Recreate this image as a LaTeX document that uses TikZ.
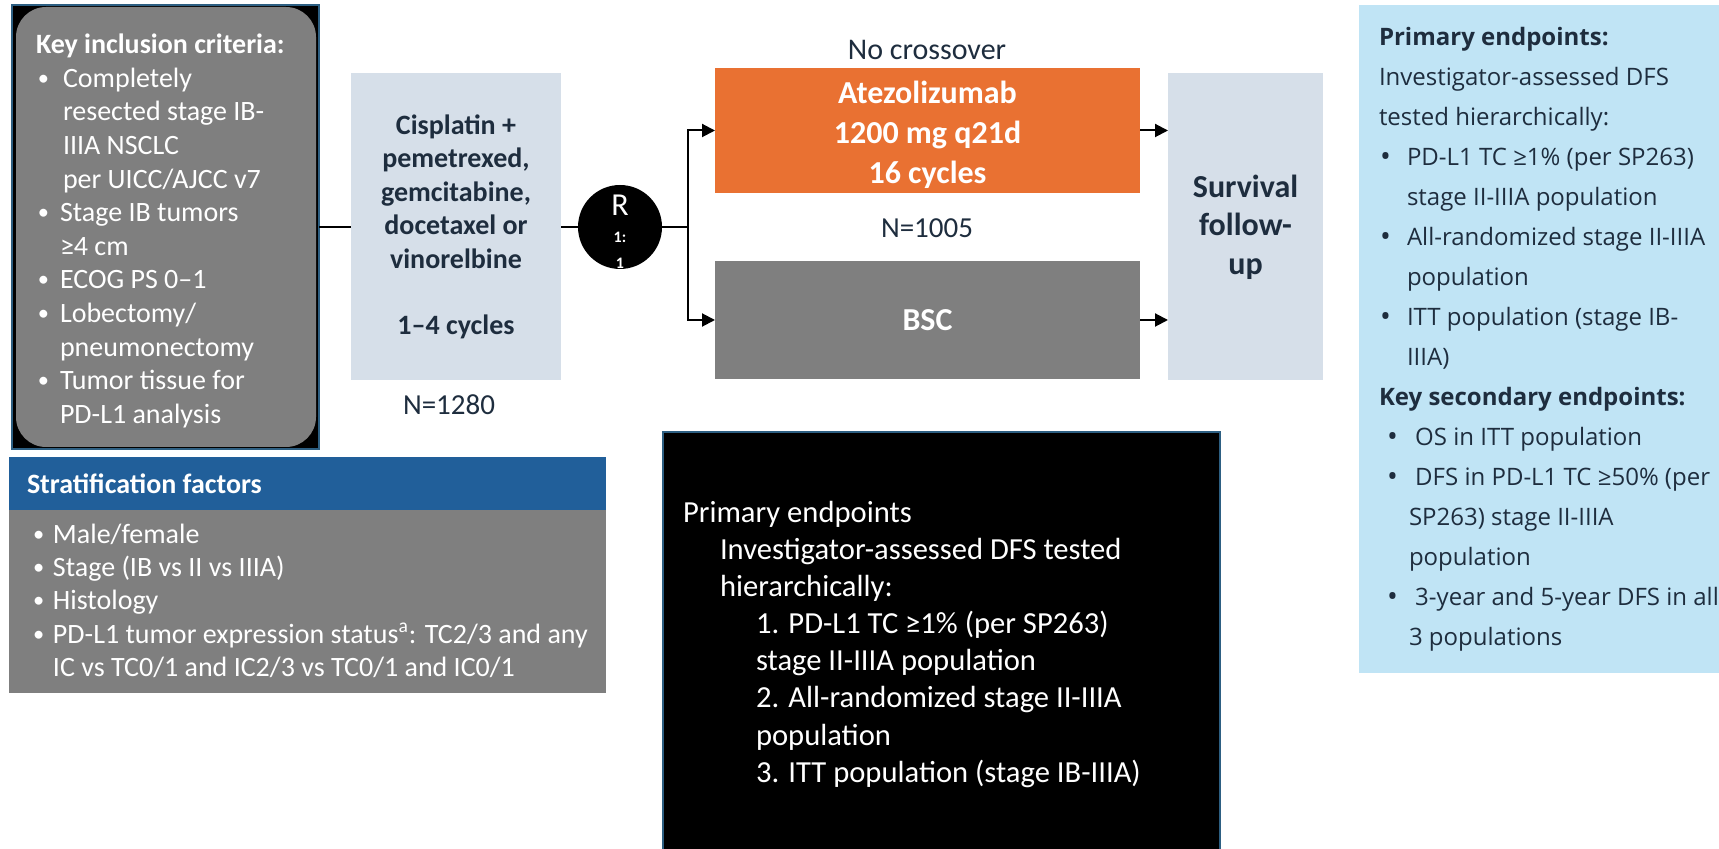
\documentclass[tikz,border=0pt]{standalone}
\usepackage{fontspec}
\setmainfont{Carlito}
\newfontfamily\endptfont{Open Sans}
\usetikzlibrary{arrows.meta, positioning, calc}
\definecolor{boxGray}{RGB}{127,127,127}
\definecolor{armOrange}{RGB}{233,113,50}
\definecolor{paleBlue}{RGB}{214,223,233}
\definecolor{skyBlue}{RGB}{192,228,245}
\definecolor{stratBlue}{RGB}{33,95,154}
\definecolor{frameBlue}{RGB}{45,95,130}
\definecolor{textDark}{RGB}{30,45,62}
\newlength\bulpre
\newlength\bulind
\newcommand{\bulsc}{0.8}
\newcommand{\bulraise}{0.07em}
\newcommand{\bul}[1][\bulpre]{\makebox[\bulind][l]{\hspace*{#1}\raisebox{\bulraise}{\scalebox{\bulsc}{\textbullet}}}}
\newcommand{\ind}{\hspace*{\bulind}}
\begin{document}
\begin{tikzpicture}[x=0.5pt, y=-0.5pt,
    every node/.style={inner sep=0pt, outer sep=0pt},
    block/.style={rectangle, align=center, inner sep=0pt},
    pale/.style={block, fill=paleBlue, text=textDark, font=\bfseries\fontsize{16}{19.25}\selectfont},
    arm/.style={block, minimum width=212.5pt, text=white, font=\bfseries\fontsize{16}{20.25}\selectfont},
    listtext/.style={anchor=north west, align=left, inner sep=0pt},
    note/.style={text=textDark, font=\fontsize{14.5}{17}\selectfont},
    link/.style={black, line width=1pt},
    arrow/.style={link, -{Triangle[length=6.5pt, width=6.5pt]}}
]
    \useasboundingbox (0,0) rectangle (1719,849);
    \fill[white] (0,0) rectangle (1719,849);

    % left column
    \node[block, fill=black, draw=frameBlue, line width=0.6pt,
        minimum width=153.5pt, minimum height=222pt] (incl) at (165.5,227) {};
    \fill[boxGray, rounded corners=15pt]
        ($(incl.north west)+(4,2)$) rectangle ($(incl.south east)+(-3,-2)$);
    \node[listtext, text=white, font=\fontsize{14}{16.8}\selectfont\setlength\bulpre{1pt}\setlength\bulind{12pt}]
        (incltxt) at (36,34) {\textbf{Key inclusion criteria:}\\
        \bul\hspace*{1.5pt}Completely\\
        \ind\hspace*{1.5pt}resected stage IB-\\
        \ind\hspace*{1.5pt}IIIA NSCLC\\
        \ind\hspace*{1.5pt}per UICC/AJCC v7\\
        \bul Stage IB tumors\\
        \ind ≥4 cm\\
        \bul ECOG PS 0–1\\
        \bul Lobectomy/\\
        \ind pneumonectomy\\
        \bul Tumor tissue for\\
        \ind PD-L1 analysis};

    \node[block, fill=stratBlue, minimum width=298.5pt, minimum height=26.5pt] (strathead) at (307.5,483.5) {};
    \node[block, fill=boxGray, minimum width=298.5pt, minimum height=91.5pt, below=0pt of strathead] (stratbody) {};
    \node[anchor=west, text=white, font=\bfseries\fontsize{14}{16}\selectfont] (strattitle) at (27,484) {Stratification factors};
    \node[listtext, text=white, font=\fontsize{14}{16.6}\selectfont\setlength\bulpre{0.5pt}\setlength\bulind{10.5pt}]
        (strattxt) at (32,524) {\bul Male/female\\
        \bul Stage (IB vs II vs IIIA)\\
        \bul Histology\\
        \bul PD-L1 tumor expression status\textsuperscript{a}: TC2/3 and any\\
        \ind IC vs TC0/1 and IC2/3 vs TC0/1 and IC0/1};

    % treatment flow
    \node[pale, minimum width=105pt, minimum height=153.5pt, font=\bfseries\fontsize{14}{16.7}\selectfont]
        (chemo) at (456,227) {Cisplatin +\\pemetrexed,\\gemcitabine,\\docetaxel or\\vinorelbine\\[16.7pt]1–4 cycles};
    \node[note] (n1280) at (449,405) {N=1280};

    \node[circle, fill=black, minimum size=42pt] (rnd) at (620,227) {};
    \node[text=white, font=\fontsize{16}{16}\selectfont] (rndR) at (620,205) {R};
    \node[text=white, align=center, font=\bfseries\fontsize{8}{13}\selectfont] (rndratio) at (620,250) {1:\\1};
    \coordinate (split) at (688,227);

    \node[arm, fill=armOrange, minimum height=62.5pt] (atezo) at (927.5,130.5) {};
    \node[text=white, align=center, font=\bfseries\fontsize{16}{20}\selectfont] (atezotxt) at (927.5,134.5) {Atezolizumab\\1200 mg q21d\\16 cycles};
    \node[arm, fill=boxGray, minimum height=59pt] (bsc) at (927.5,320) {BSC};
    \node[note, font=\fontsize{15}{17}\selectfont] (nocross) at (927,50) {No crossover};
    \node[note] (n1005) at (927,228) {N=1005};

    \node[pale, minimum width=77.5pt, minimum height=153.5pt] (surv) at (1245.5,227) {Survival\\follow-\\up};

    \draw[link] (incl.east) -- (chemo.west);
    \draw[link] (chemo.east) -- (rnd.west);
    \draw[link] (rnd.east) -- (split);
    \draw[arrow] (split) |- (atezo.west);
    \draw[arrow] (split) |- (bsc.west);
    \draw[arrow] (atezo.east) -- (atezo.east -| surv.west);
    \draw[arrow] (bsc.east) -- (bsc.east -| surv.west);

    % endpoints
    \node[block, fill=skyBlue, minimum width=183pt, minimum height=334pt] (endpts) at (1542,339) {};
    \node[listtext, text=textDark, font=\endptfont\fontsize{12}{20}\selectfont\setlength\bulpre{0.5pt}\setlength\bulind{14pt}\renewcommand{\bulsc}{1.2}\renewcommand{\bulraise}{-0.06em}]
        (endtxt) at (1379,27) {\textbf{Primary endpoints:}\\
        Investigator-assessed DFS\\
        tested hierarchically:\\
        \bul PD-L1 TC ≥1\% (per SP263)\\
        \ind stage II-IIIA population\\
        \bul All-randomized stage II-IIIA\\
        \ind population\\
        \bul ITT population (stage IB-\\
        \ind IIIA)\\
        \textbf{Key secondary endpoints:}\\
        \bul[4pt] \hspace*{1pt}OS in ITT population\\
        \bul[4pt] \hspace*{1pt}DFS in PD-L1 TC ≥50\% (per\\
        \ind\hspace*{1pt}SP263) stage II-IIIA\\
        \ind\hspace*{1pt}population\\
        \bul[4pt] \hspace*{1pt}3-year and 5-year DFS in all\\
        \ind\hspace*{1pt}3 populations};

    \node[block, fill=black, draw=frameBlue, line width=1pt, minimum width=278.5pt, minimum height=214pt] (hier) at (941.5,646) {};
    \node[listtext, text=white, font=\fontsize{15.3}{18.57}\selectfont]
        (hiertxt) at (683,501) {Primary endpoints\\
        \hspace*{18.5pt}Investigator-assessed DFS tested\\
        \hspace*{18.5pt}hierarchically:\\
        \hspace*{36.5pt}1. PD-L1 TC ≥1\% (per SP263)\\
        \hspace*{36.5pt}stage II-IIIA population\\
        \hspace*{36.5pt}2. All-randomized stage II-IIIA\\
        \hspace*{36.5pt}population\\
        \hspace*{36.5pt}3. ITT population (stage IB-IIIA)};
\end{tikzpicture}
\end{document}
